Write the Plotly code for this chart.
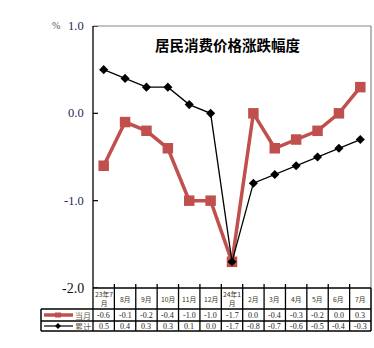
import plotly.graph_objects as go

categories = ["23年7<br>月", "8月", "9月", "10月", "11月", "12月", "24年1<br>月",
              "2月", "3月", "4月", "5月", "6月", "7月"]
monthly = [-0.6, -0.1, -0.2, -0.4, -1.0, -1.0, -1.7, 0.0, -0.4, -0.3, -0.2, 0.0, 0.3]
cumulative = [0.5, 0.4, 0.3, 0.3, 0.1, 0.0, -1.7, -0.8, -0.7, -0.6, -0.5, -0.4, -0.3]
y_ticks = [1.0, 0.0, -1.0, -2.0]
series_names = ["当月", "累计"]
title_text = "居民消费价格涨跌幅度"

RED = "#C0504D"
W, H = 374, 348
L, R, T, B = 93, 3, 26, 60
PW, PH = W - L - R, H - T - B
n = len(categories)
xs = list(range(n))

def py(Y):
    return (H - B - Y) / PH

def pxp(X):
    return (X - L) / PW

fig = go.Figure()
fig.add_trace(go.Scatter(x=xs, y=monthly, mode="lines+markers", name=series_names[0],
                         line=dict(color=RED, width=3.5),
                         marker=dict(symbol="square", size=10.5, color=RED),
                         cliponaxis=False))
fig.add_trace(go.Scatter(x=xs, y=cumulative, mode="lines+markers", name=series_names[1],
                         line=dict(color="black", width=1.3),
                         marker=dict(symbol="diamond", size=7, color="black"),
                         cliponaxis=False))

shapes = []
# plot frame
shapes.append(dict(type="line", xref="paper", yref="paper", x0=0, x1=1, y0=1, y1=1,
                   line=dict(color="#888888", width=1.2)))
shapes.append(dict(type="line", xref="paper", yref="paper", x0=1, x1=1, y0=0, y1=1,
                   line=dict(color="#888888", width=1.2)))
shapes.append(dict(type="line", xref="paper", yref="paper", x0=0, x1=0, y0=py(331), y1=1,
                   line=dict(color="black", width=1.3)))
# y ticks inside
for v in y_ticks:
    shapes.append(dict(type="line", xref="paper", yref="y", x0=0, x1=pxp(L + 5), y0=v, y1=v,
                       line=dict(color="black", width=1.2)))
# table horizontals
shapes.append(dict(type="line", xref="paper", yref="paper", x0=0, x1=pxp(371), y0=0, y1=0,
                   line=dict(color="black", width=1.5)))
for Y in [309, 321, 331]:
    shapes.append(dict(type="line", xref="paper", yref="paper", x0=pxp(41), x1=pxp(371),
                       y0=py(Y), y1=py(Y), line=dict(color="black", width=1.5)))
# table verticals
shapes.append(dict(type="line", xref="paper", yref="paper", x0=pxp(41), x1=pxp(41),
                   y0=py(309), y1=py(331), line=dict(color="black", width=1.5)))
for k in range(1, n):
    shapes.append(dict(type="line", xref="x", yref="paper", x0=k - 0.5, x1=k - 0.5,
                       y0=py(284), y1=py(331), line=dict(color="black", width=1.3)))
shapes.append(dict(type="line", xref="paper", yref="paper", x0=pxp(371), x1=pxp(371),
                   y0=0, y1=py(331), line=dict(color="black", width=1.5)))
# legend keys in table
shapes.append(dict(type="line", xref="paper", yref="paper", x0=pxp(44), x1=pxp(73),
                   y0=py(315), y1=py(315), line=dict(color=RED, width=3.5)))
shapes.append(dict(type="rect", xref="paper", yref="paper", x0=pxp(55), x1=pxp(61),
                   y0=py(312.5), y1=py(317.5), fillcolor=RED, line=dict(width=0)))
shapes.append(dict(type="line", xref="paper", yref="paper", x0=pxp(44), x1=pxp(73),
                   y0=py(326), y1=py(326), line=dict(color="black", width=1.2)))
shapes.append(dict(type="path", xref="paper", yref="paper",
                   path=f"M {pxp(58)},{py(323)} L {pxp(61)},{py(326)} L {pxp(58)},{py(329)} L {pxp(55)},{py(326)} Z",
                   fillcolor="black", line=dict(width=0)))

ann = []
serif = "Liberation Serif"
for v in y_ticks:
    ann.append(dict(x=pxp(86), y=v, xref="paper", yref="y", text=f"{v:.1f}", showarrow=False,
                    xanchor="right", yanchor="middle",
                    font=dict(family=serif, size=14 if v == -2.0 else 12.5,
                              color="#111111" if v == -2.0 else "#1a2a5a")))
ann.append(dict(x=pxp(56), y=py(25), xref="paper", yref="paper", text="%", showarrow=False,
                xanchor="center", yanchor="middle", font=dict(family=serif, size=10, color="#555555")))
ann.append(dict(x=pxp(227), y=py(45), xref="paper", yref="paper", text=f"<b>{title_text}</b>",
                showarrow=False, xanchor="center", yanchor="middle",
                font=dict(family="Noto Sans CJK SC", size=14.5, color="black")))
for i, c in enumerate(categories):
    ann.append(dict(x=i, y=py(298.5), xref="x", yref="paper", text=c, showarrow=False,
                    xanchor="center", yanchor="middle",
                    font=dict(family="Noto Sans CJK SC, " + serif, size=6.8, color="#3a3020")))
    ann.append(dict(x=i, y=py(315), xref="x", yref="paper", text=f"{monthly[i]:.1f}", showarrow=False,
                    xanchor="center", yanchor="middle", font=dict(family=serif, size=8, color="#222222")))
    ann.append(dict(x=i, y=py(326), xref="x", yref="paper", text=f"{cumulative[i]:.1f}", showarrow=False,
                    xanchor="center", yanchor="middle", font=dict(family=serif, size=8, color="#222222")))
for name, Y in zip(series_names, [315, 326]):
    ann.append(dict(x=pxp(83), y=py(Y), xref="paper", yref="paper", text=name, showarrow=False,
                    xanchor="center", yanchor="middle",
                    font=dict(family="Noto Sans CJK SC", size=8, color="#6a5a4a")))

fig.update_layout(
    width=W, height=H,
    margin=dict(l=L, r=R, t=T, b=B),
    paper_bgcolor="white", plot_bgcolor="white",
    showlegend=False,
    xaxis=dict(range=[-0.5, n - 0.5], showticklabels=False, showgrid=False, zeroline=False,
               showline=False, ticks=""),
    yaxis=dict(range=[-2, 1], showticklabels=False, showgrid=False, zeroline=False,
               showline=False, ticks=""),
    shapes=shapes, annotations=ann,
)
fig.write_html("out.html")
